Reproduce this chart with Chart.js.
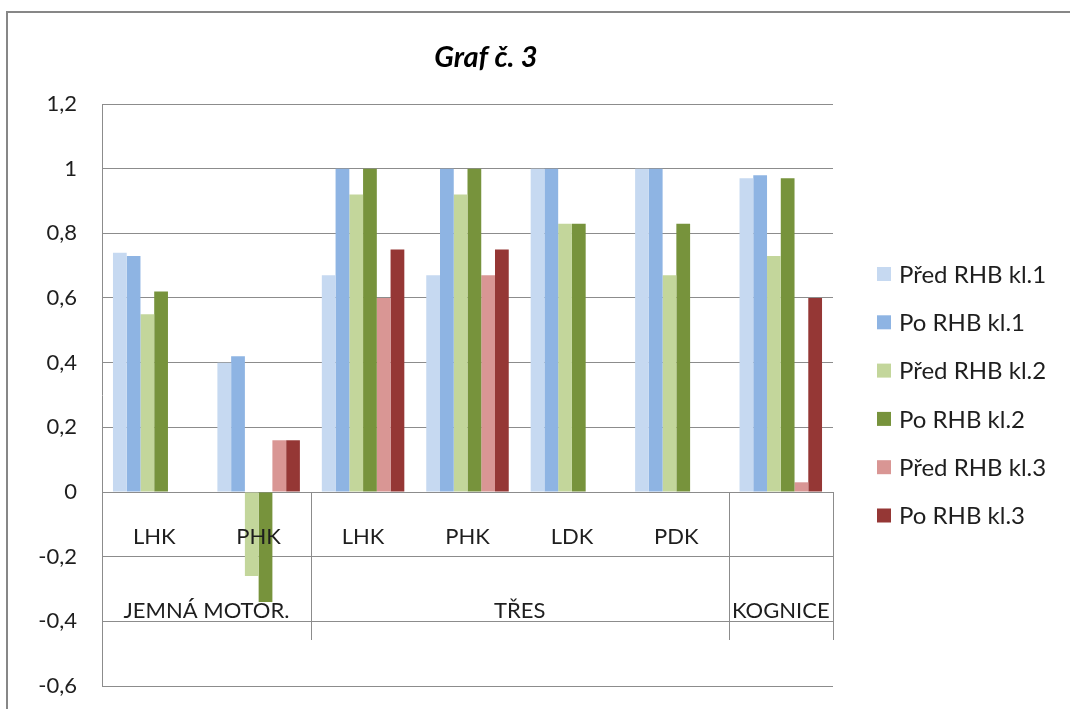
<!DOCTYPE html>
<html>
<head>
<meta charset="utf-8">
<script src="https://cdn.jsdelivr.net/npm/chart.js@4.4.1/dist/chart.umd.min.js"></script>
<style>
  html, body { margin: 0; padding: 0; background: #fff; }
  #wrap { width: 1070px; height: 709px; position: relative; }
</style>
</head>
<body>
<div id="wrap"><canvas id="graf"></canvas></div>
<script>
// data
const categories = ['LHK', 'PHK', 'LHK', 'PHK', 'LDK', 'PDK', ''];
const groups = [
    { label: 'JEMNÁ MOTOR.', from: 0, to: 1 },
    { label: 'TŘES', from: 2, to: 5 },
    { label: 'KOGNICE', from: 6, to: 6 }
];
const seriesNames = ['Před RHB kl.1', 'Po RHB kl.1', 'Před RHB kl.2', 'Po RHB kl.2', 'Před RHB kl.3', 'Po RHB kl.3'];
const predKl1 = [0.74, 0.40, 0.67, 0.67, 1.00, 1.00, 0.97];
const poKl1   = [0.73, 0.42, 1.00, 1.00, 1.00, 1.00, 0.98];
const predKl2 = [0.55, -0.26, 0.92, 0.92, 0.83, 0.67, 0.73];
const poKl2   = [0.62, -0.34, 1.00, 1.00, 0.83, 0.83, 0.97];
const predKl3 = [0, 0.16, 0.60, 0.67, 0, 0, 0.03];
const poKl3   = [0, 0.16, 0.75, 0.75, 0, 0, 0.60];
const yTicks = { min: -0.6, max: 1.2, step: 0.2 };

const colors = ['#C6D9F1', '#8EB4E3', '#C3D69B', '#77933C', '#D99694', '#953735'];
const gridColor = '#8c8c8c';
const FONT = 'Lato, "Open Sans", sans-serif';

const seriesData = [predKl1, poKl1, predKl2, poKl2, predKl3, poKl3];

// rámeček, nadpis, popisky kategorií a legenda
const decorPlugin = {
    id: 'decor',
    beforeDraw(chart) {
        const c = chart.ctx;
        c.save();
        c.fillStyle = '#fff';
        c.fillRect(0, 0, chart.width, chart.height);
        c.strokeStyle = '#878787';
        c.lineWidth = 2;
        c.strokeRect(7, 12, chart.width + 20, chart.height + 20);
        c.restore();
    },
    afterDatasetsDraw(chart) {
        const c = chart.ctx;
        const xs = chart.scales.x;
        const ys = chart.scales.y;
        const y0 = ys.getPixelForValue(0);
        const catW = xs.getPixelForValue(1) - xs.getPixelForValue(0);
        c.save();

        // title
        c.fillStyle = '#000';
        c.font = 'italic bold 29px ' + FONT;
        c.textAlign = 'center';
        c.textBaseline = 'alphabetic';
        c.fillText('Graf č. 3', 486, 67);

        // separators of groups
        c.strokeStyle = gridColor;
        c.lineWidth = 1;
        groups.forEach(g => {
            const xr = Math.round(xs.getPixelForValue(g.to) + catW / 2) + 0.5;
            c.beginPath();
            c.moveTo(xr, y0);
            c.lineTo(xr, y0 + 148);
            c.stroke();
        });

        // category labels
        c.fillStyle = '#1e1e1e';
        c.font = '22px ' + FONT;
        categories.forEach((lab, i) => {
            c.fillText(lab, xs.getPixelForValue(i), y0 + 52);
        });
        groups.forEach(g => {
            const xm = (xs.getPixelForValue(g.from) + xs.getPixelForValue(g.to)) / 2;
            c.fillText(g.label, xm, y0 + 126);
        });

        // legend
        c.font = '24px ' + FONT;
        c.textAlign = 'left';
        c.textBaseline = 'middle';
        chart.data.datasets.forEach((ds, i) => {
            const cy = 274 + i * 48.3;
            c.fillStyle = ds.backgroundColor;
            c.fillRect(877, cy - 7, 14, 14);
            c.fillStyle = '#1e1e1e';
            c.fillText(ds.label, 899, cy + 1);
        });
        c.restore();
    }
};

new Chart(document.getElementById('graf').getContext('2d'), {
    type: 'bar',
    data: {
        labels: categories,
        datasets: seriesNames.map((name, i) => ({
            label: name,
            data: seriesData[i],
            backgroundColor: colors[i],
            borderWidth: 0
        }))
    },
    options: {
        responsive: true,
        maintainAspectRatio: false,
        animation: false,
        categoryPercentage: 0.79,
        barPercentage: 1,
        layout: { padding: { left: 0, top: 104, right: 237, bottom: 23 } },
        plugins: {
            legend: { display: false },
            title: { display: false },
            tooltip: { enabled: false }
        },
        scales: {
            x: { display: false, offset: true },
            y: {
                min: yTicks.min,
                max: yTicks.max,
                afterFit: s => {
                    s.width = 102;
                    s.paddingTop = 0;
                    s.paddingBottom = 0;
                },
                ticks: {
                    stepSize: yTicks.step,
                    padding: 25,
                    color: '#1e1e1e',
                    font: { family: FONT, size: 22 },
                    callback: v => String(Number(v.toFixed(1))).replace('.', ',')
                },
                grid: { color: gridColor, lineWidth: 1, drawTicks: false },
                border: { color: gridColor, width: 1 }
            }
        }
    },
    plugins: [decorPlugin]
});
</script>
</body>
</html>
